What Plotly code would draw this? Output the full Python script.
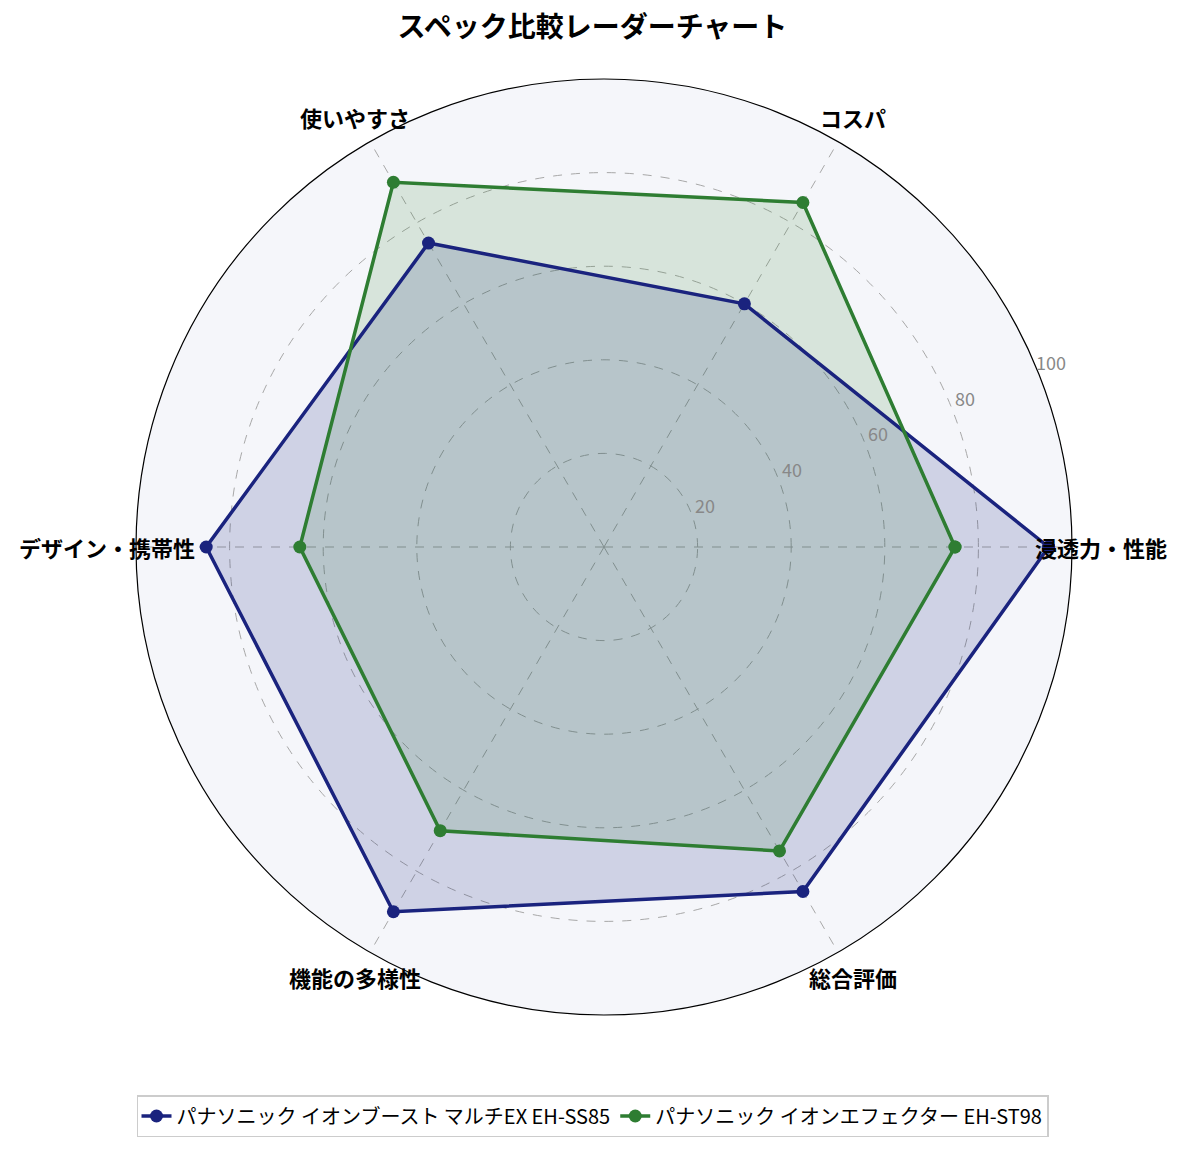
import math
import plotly.graph_objects as go

categories = ["浸透力・性能", "コスパ", "使いやすさ", "デザイン・携帯性", "機能の多様性", "総合評価"]
series_names = ["パナソニック イオンブースト マルチEX EH-SS85", "パナソニック イオンエフェクター EH-ST98"]
values_ss85 = [95, 60, 75, 85, 90, 85]
values_st98 = [75, 85, 90, 65, 70, 75]
radial_ticks = [20, 40, 60, 80, 100]

line_colors = ["#1a237e", "#2e7d32"]
fill_colors = ["rgba(26,35,126,0.17)", "rgba(46,125,50,0.15)"]

FONT = "Noto Sans CJK JP"
W, H = 1185, 1149
CX, CY, R = 604, 547, 468  # polar centre / radius in pixels
RMAX = 100
TICK_ANGLE = 22.5

fig = go.Figure()
for name, vals, lc, fc in zip(series_names, [values_ss85, values_st98], line_colors, fill_colors):
    rr = vals + vals[:1]
    tt = categories + categories[:1]
    # filled area (no legend entry)
    fig.add_trace(go.Scatterpolar(
        r=rr, theta=tt, mode="lines", name=name, legendgroup=name, showlegend=False,
        line=dict(color="rgba(0,0,0,0)", width=0), fill="toself", fillcolor=fc,
        hoverinfo="skip",
    ))
for name, vals, lc in zip(series_names, [values_ss85, values_st98], line_colors):
    rr = vals + vals[:1]
    tt = categories + categories[:1]
    fig.add_trace(go.Scatterpolar(
        r=rr, theta=tt, mode="lines+markers", name=name, legendgroup=name,
        line=dict(color=lc, width=3.5),
        marker=dict(color=lc, size=13),
    ))

annotations = []
n = len(categories)
for i, c in enumerate(categories):
    ang = math.radians(360 * i / n)
    px = CX + R * 1.062 * math.cos(ang)
    py = CY - R * 1.062 * math.sin(ang)
    annotations.append(dict(
        text="<b>%s</b>" % c, x=px / W, y=1 - py / H, xref="paper", yref="paper",
        xanchor="center", yanchor="middle", showarrow=False,
        font=dict(size=22, color="black", family=FONT),
    ))
ta = math.radians(TICK_ANGLE)
for v in radial_ticks:
    d = v / RMAX * R + 16
    px = CX + d * math.cos(ta)
    py = CY - d * math.sin(ta)
    annotations.append(dict(
        text=str(v), x=px / W, y=1 - py / H, xref="paper", yref="paper",
        xanchor="center", yanchor="middle", showarrow=False,
        font=dict(size=18, color="#888888", family=FONT),
    ))

fig.update_layout(
    width=W, height=H,
    paper_bgcolor="white",
    font=dict(family=FONT, color="black"),
    margin=dict(l=0, r=0, t=0, b=0),
    title=dict(text="<b>スペック比較レーダーチャート</b>", x=0.5, xanchor="center",
               y=1 - 27 / H, yanchor="middle", font=dict(size=28, family=FONT, color="black")),
    polar=dict(
        domain=dict(x=[(CX - R) / W, (CX + R) / W], y=[1 - (CY + R) / H, 1 - (CY - R) / H]),
        bgcolor="#f5f6fa",
        radialaxis=dict(
            range=[0, RMAX], tickvals=radial_ticks, showticklabels=False,
            angle=TICK_ANGLE, showline=False, ticks="",
            gridcolor="#a8a8a8", griddash="dash", gridwidth=0.8,
        ),
        angularaxis=dict(
            rotation=0, direction="counterclockwise",
            showline=True, linecolor="black", linewidth=1.2,
            gridcolor="#a8a8a8", griddash="dash", gridwidth=0.8,
            ticks="", showticklabels=False,
        ),
    ),
    annotations=annotations,
    showlegend=True,
    legend=dict(
        orientation="h", x=0.5, xanchor="center", y=1 - 1116 / H, yanchor="middle",
        bordercolor="#cccccc", borderwidth=1.5, bgcolor="white",
        font=dict(size=20, family=FONT, color="black"),
    ),
)

fig.write_html("out.html", config={"displayModeBar": False},
               post_script="document.body.style.margin='0';")
